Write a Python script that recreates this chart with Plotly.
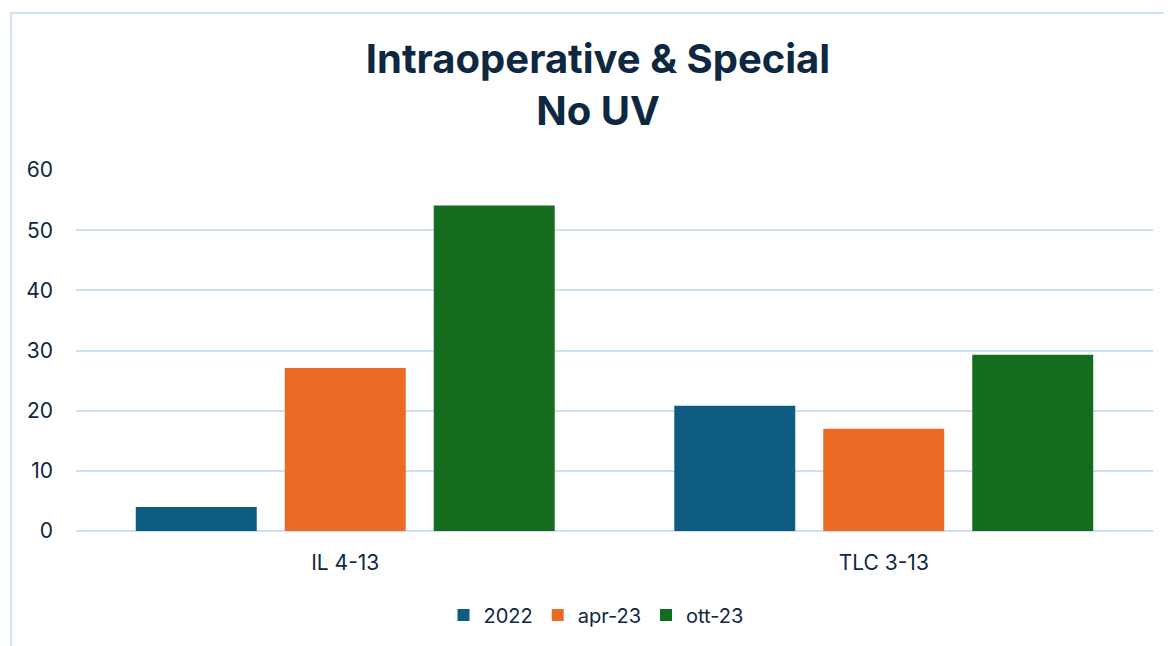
import plotly.graph_objects as go

categories = ["IL 4-13", "TLC 3-13"]
series_names = ["2022", "apr-23", "ott-23"]
values_2022 = [4.0, 20.8]
values_apr23 = [27.1, 17.0]
values_ott23 = [54.1, 29.3]
series_values = [values_2022, values_apr23, values_ott23]
colors = ["#0f5c82", "#ea6a24", "#146c1f"]
y_ticks = [0, 10, 20, 30, 40, 50, 60]

TEXT = "#0e2841"
GRID = "#cfe0f4"

W, H = 1164, 638          # page body has an 8px margin
L, T, R, B = 68, 162, 19, 115
PW = W - L - R
PH = H - T - B

fig = go.Figure()
for name, vals, col in zip(series_names, series_values, colors):
    fig.add_trace(go.Bar(name=name, x=categories, y=vals, marker=dict(color=col, line=dict(width=0))))

fig.update_layout(
    width=W, height=H,
    paper_bgcolor="white", plot_bgcolor="white",
    margin=dict(l=L, r=R, t=T, b=B),
    barmode="group", bargap=0.170, bargroupgap=0.188,
    title=dict(
        text="<b>Intraoperative & Special<br>No UV</b>",
        font=dict(family="Inter, Roboto, sans-serif", size=40, color=TEXT),
        x=590 / W, xanchor="center", xref="container",
        y=1 - 65 / H, yanchor="top", yref="container",
    ),
    font=dict(family="Inter, Roboto, sans-serif", size=21, color=TEXT),
    legend=dict(
        orientation="h", x=(588 - L) / PW, xanchor="center",
        y=(523 - 607) / PH, yanchor="middle",
        font=dict(size=20, color=TEXT), traceorder="normal",
    ),
    showlegend=True,
)
fig.update_yaxes(
    range=[0, 60], tickvals=y_ticks, showgrid=True, gridcolor=GRID, gridwidth=1.5,
    zeroline=True, zerolinecolor=GRID, zerolinewidth=1.5, showline=False,
    ticks="", ticklabelstandoff=22, fixedrange=True,
)
fig.update_xaxes(
    showgrid=False, showline=False, ticks="", ticklabelstandoff=17, fixedrange=True,
)
fig.add_shape(
    type="rect", xref="paper", yref="paper",
    x0=(3 - L) / PW, x1=(W + 20 - L) / PW,
    y0=(523 - (H + 20)) / PH, y1=(523 - 5) / PH,
    line=dict(color="#cfe2f7", width=2), fillcolor="rgba(0,0,0,0)", layer="below",
)
fig.write_html("out.html")
